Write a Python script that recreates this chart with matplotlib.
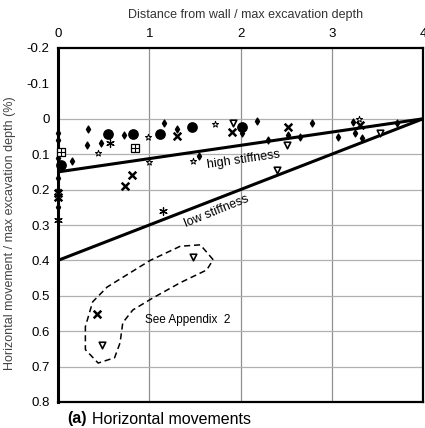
import matplotlib
matplotlib.use("Agg")
import matplotlib.pyplot as plt
import numpy as np

plt.rcParams['font.family'] = ['Liberation Sans', 'DejaVu Sans']

# Axis ticks
x_ticks = [0, 1, 2, 3, 4]
y_ticks = [-0.2, -0.1, 0, 0.1, 0.2, 0.3, 0.4, 0.5, 0.6, 0.7, 0.8]
y_tick_labels = ["-0.2", "-0.1", "0", "0.1", "0.2", "0.3", "0.4", "0.5", "0.6", "0.7", "0.8"]

# Design envelopes: movement at wall and zero at distance 4
high_x = [0, 4]
high_y = [0.15, 0.0]
low_x = [0, 4]
low_y = [0.40, 0.0]

# Case-history observations, grouped by symbol
dots_x = [0.55, 0.82, 1.12, 1.47, 0.03, 2.02]
dots_y = [0.043, 0.043, 0.043, 0.022, 0.13, 0.022]

small_x = [0.33, 0.32, 0.47, 0.15, 1.16, 2.18, 2.78, 3.23, 3.25, 3.33, 3.72,
           2.02, 2.30, 2.65, 3.07, 2.52, 0.0, 0.0, 0.0, 0.0, 0.0, 0.0, 0.72, 1.30, 1.55]
small_y = [0.03, 0.073, 0.067, 0.12, 0.012, 0.006, 0.012, 0.008, 0.04, 0.053, 0.012,
           0.04, 0.06, 0.05, 0.05, 0.045, 0.04, 0.06, 0.167, 0.2, 0.25, 0.11, 0.045, 0.03, 0.105]

open_x = [0.44, 0.99, 1.48, 1.72, 1.0, 3.30]
open_y = [0.097, 0.05, 0.12, 0.015, 0.123, 0.0]

cross_x = [1.30, 0.81, 0.73, 1.91, 2.52, 3.31, 0.0, 0.0, 0.43]
cross_y = [0.048, 0.158, 0.19, 0.037, 0.022, 0.017, 0.21, 0.22, 0.55]

star_x = [0.57, 1.15, 0.0]
star_y = [0.068, 0.26, 0.285]

box_x = [0.84, 0.03]
box_y = [0.083, 0.093]

tri_x = [2.40, 2.51, 3.53, 0.48, 1.48, 1.92]
tri_y = [0.144, 0.073, 0.04, 0.64, 0.39, 0.012]

# Outline of the cases discussed separately
loop_x = [1.70, 1.56, 1.34, 1.01, 0.54, 0.38, 0.30, 0.30, 0.44, 0.62, 0.68,
          0.71, 0.82, 1.04, 1.34, 1.63, 1.70]
loop_y = [0.398, 0.356, 0.36, 0.40, 0.475, 0.517, 0.587, 0.652, 0.69, 0.675, 0.633,
          0.576, 0.54, 0.506, 0.463, 0.427, 0.398]

fig = plt.figure(figsize=(4.25, 4.28), dpi=100)
ax = fig.add_axes([58 / 425, 1 - 402 / 428, (423 - 58) / 425, (402 - 48) / 428])

ax.set_xlim(0, 4)
ax.set_ylim(0.8, -0.2)

# grid
for gx in [1, 2, 3]:
    ax.axvline(gx, color='#909090', lw=0.9, zorder=1)
for gy in [0, 0.1, 0.2, 0.3, 0.4, 0.5, 0.6, 0.7]:
    ax.axhline(gy, color='#b0b0b0', lw=0.9, zorder=1)

ax.plot(high_x, high_y, color='black', lw=2.2, zorder=3)
ax.plot(low_x, low_y, color='black', lw=2.2, zorder=3)

ax.text(1.64, 0.138, "high stiffness", rotation=8.3, fontsize=9,
        ha='left', va='baseline', rotation_mode='anchor', zorder=4)
ax.text(1.40, 0.305, "low stiffness", rotation=22, fontsize=9,
        ha='left', va='baseline', rotation_mode='anchor', zorder=4)

ax.plot(loop_x, loop_y, color='black', lw=1.1, ls=(0, (4, 2.5)), zorder=3)
ax.text(0.95, 0.568, "See Appendix  2", fontsize=8.5, ha='left', va='center')

sc_kw = dict(zorder=5, clip_on=False)
ax.scatter(dots_x, dots_y, s=45, c='black', marker='o', **sc_kw)
ax.scatter(small_x, small_y, s=12, c='black', marker='d', **sc_kw)
ax.scatter(open_x, open_y, s=22, facecolors='white', edgecolors='black',
           marker='*', linewidths=0.7, **sc_kw)
ax.scatter(cross_x, cross_y, s=30, c='black', marker='x', linewidths=1.8, **sc_kw)
ax.scatter(star_x, star_y, s=30, c='black', marker=(6, 2, 0), linewidths=0.9, **sc_kw)
ax.scatter(box_x, box_y, s=35, facecolors='white', edgecolors='black',
           marker='s', linewidths=0.9, **sc_kw)
ax.scatter(box_x, box_y, s=35, c='black', marker='+', linewidths=0.8,
           zorder=6, clip_on=False)
ax.scatter(tri_x, tri_y, s=22, facecolors='white', edgecolors='black',
           marker='v', linewidths=1.2, **sc_kw)

ax.xaxis.tick_top()
ax.set_xticks(x_ticks)
ax.set_xticklabels([str(v) for v in x_ticks], fontsize=9.5)
ax.set_yticks(y_ticks)
ax.set_yticklabels(y_tick_labels, fontsize=9.5)
ax.tick_params(axis='both', length=0, pad=6)

for side in ['top', 'bottom', 'right']:
    ax.spines[side].set_linewidth(1.6)
ax.spines['left'].set_linewidth(2.2)

fig.text(246 / 425, 1 - 15 / 428, "Distance from wall / max excavation depth",
         fontsize=9, ha='center', va='center', color='#333333')
fig.text(10 / 425, 1 - 233 / 428, "Horizontal movement / max excavation depth (%)",
         fontsize=9, rotation=90, ha='center', va='center', color='#444444')
fig.text(67 / 425, 1 - 419 / 428, "(a)", fontsize=11.5, fontweight='bold',
         ha='left', va='center')
fig.text(92 / 425, 1 - 419 / 428, "Horizontal movements", fontsize=11.5,
         ha='left', va='center')

fig.savefig("out.png", dpi=100)
